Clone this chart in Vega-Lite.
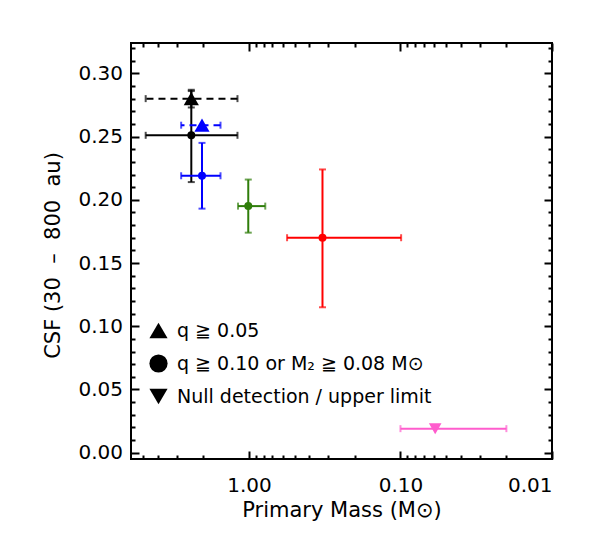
{
  "$schema": "https://vega.github.io/schema/vega-lite/v6.json",
  "width": 421,
  "height": 416,
  "autosize": "none",
  "padding": {"left": 131, "top": 43, "right": 39, "bottom": 84},
  "background": "white",
  "config": {
    "view": {"stroke": "black", "strokeWidth": 2},
    "font": "DejaVu Sans",
    "axis": {
      "domain": false,
      "grid": false,
      "tickColor": "black",
      "tickWidth": 2,
      "labelFont": "DejaVu Sans",
      "labelFontSize": 20,
      "labelColor": "black",
      "titleFont": "DejaVu Sans",
      "titleFontSize": 21,
      "titleFontWeight": "normal",
      "titleColor": "black"
    }
  },
  "data": {
    "values": [
      {"sample": "q ≧ 0.05", "grp": "S1", "mass": 2.4, "csf": 0.280, "ylo": 0.273, "yhi": 0.287, "xlo": 1.19, "xhi": 4.8},
      {"sample": "q ≧ 0.10 or M₂ ≧ 0.08 M⊙", "grp": "S1", "mass": 2.4, "csf": 0.251, "ylo": 0.214, "yhi": 0.286, "xlo": 1.19, "xhi": 4.8},
      {"sample": "q ≧ 0.05", "grp": "S2", "mass": 2.04, "csf": 0.259, "xlo": 1.54, "xhi": 2.8},
      {"sample": "q ≧ 0.10 or M₂ ≧ 0.08 M⊙", "grp": "S2", "mass": 2.04, "csf": 0.219, "ylo": 0.193, "yhi": 0.245, "xlo": 1.54, "xhi": 2.8},
      {"sample": "q ≧ 0.10 or M₂ ≧ 0.08 M⊙", "grp": "S3", "mass": 1.01, "csf": 0.195, "ylo": 0.174, "yhi": 0.216, "xlo": 0.78, "xhi": 1.18},
      {"sample": "q ≧ 0.10 or M₂ ≧ 0.08 M⊙", "grp": "S4", "mass": 0.327, "csf": 0.170, "ylo": 0.115, "yhi": 0.224, "xlo": 0.099, "xhi": 0.56},
      {"sample": "Null detection / upper limit", "grp": "S5", "mass": 0.059, "csf": 0.019, "xlo": 0.02, "xhi": 0.1}
    ]
  },
  "resolve": {"axis": {"x": "independent", "y": "independent"}},
  "layer": [
    {
      "transform": [{"filter": "isValid(datum.ylo)"}],
      "mark": {"type": "rule", "strokeWidth": 2},
      "encoding": {
        "x": {"field": "mass", "type": "quantitative",
              "scale": {"type": "log", "domain": [0.01, 6], "reverse": true, "nice": false},
              "axis": {"orient": "bottom", "values": [0.01, 0.1, 1], "format": ".2f", "tickSize": -8,
                       "labelBaseline": "alphabetic", "labelPadding": 40.5,
                       "title": "Primary Mass (M⊙)", "titleBaseline": "alphabetic", "titleY": 57}},
        "y": {"field": "ylo", "type": "quantitative",
              "scale": {"domain": [-0.005, 0.324], "nice": false, "zero": false},
              "axis": {"orient": "left", "values": [0, 0.05, 0.1, 0.15, 0.2, 0.25, 0.3], "format": ".2f", "tickSize": -8,
                       "labelPadding": 16.5, "labelBaseline": "middle",
                       "title": "CSF (30\u00a0 –\u00a0 800\u00a0 au)", "titleX": -72, "titleY": 212, "titleBaseline": "alphabetic", "titleAngle": -90, "titleAlign": "center"}},
        "y2": {"field": "yhi"},
        "color": {"field": "grp", "type": "nominal", "legend": null,
                  "scale": {"domain": ["S1", "S2", "S3", "S4", "S5"], "range": ["black", "#0000ff", "#2f7d0a", "#ff0000", "#ff5ccd"]}}
      }
    },
    {
      "transform": [{"filter": "datum.sample !== 'q ≧ 0.05'"}],
      "mark": {"type": "rule", "strokeWidth": 2},
      "encoding": {
        "x": {"field": "xlo", "type": "quantitative",
              "scale": {"type": "log", "domain": [0.01, 6], "reverse": true, "nice": false},
              "axis": {"orient": "bottom", "values": [0.02, 0.03, 0.04, 0.05, 0.06, 0.07, 0.08, 0.09, 0.2, 0.3, 0.4, 0.5, 0.6, 0.7, 0.8, 0.9, 2, 3, 4, 5],
                       "labels": false, "tickSize": -4, "title": null}},
        "x2": {"field": "xhi"},
        "y": {"field": "csf", "type": "quantitative",
              "scale": {"domain": [-0.005, 0.324], "nice": false, "zero": false},
              "axis": {"orient": "left", "values": [0.01, 0.02, 0.03, 0.04, 0.06, 0.07, 0.08, 0.09, 0.11, 0.12, 0.13, 0.14, 0.16, 0.17, 0.18, 0.19, 0.21, 0.22, 0.23, 0.24, 0.26, 0.27, 0.28, 0.29, 0.31, 0.32],
                       "labels": false, "tickSize": -4, "title": null}},
        "color": {"field": "grp", "type": "nominal", "legend": null}
      }
    },
    {
      "transform": [{"filter": "datum.sample === 'q ≧ 0.05'"}],
      "mark": {"type": "rule", "strokeWidth": 2, "strokeDash": [7, 5]},
      "encoding": {
        "x": {"field": "xlo", "type": "quantitative", "axis": null},
        "x2": {"field": "xhi"},
        "y": {"field": "csf", "type": "quantitative", "axis": null},
        "color": {"field": "grp", "type": "nominal", "legend": null}
      }
    },
    {
      "transform": [{"fold": ["ylo", "yhi"], "as": ["end", "v"]}, {"filter": "isValid(datum.v)"}],
      "mark": {"type": "tick", "orient": "horizontal", "size": 7, "thickness": 2},
      "encoding": {
        "x": {"field": "mass", "type": "quantitative",
              "scale": {"type": "log", "domain": [0.01, 6], "reverse": true, "nice": false},
              "axis": {"orient": "top", "values": [0.01, 0.1, 1], "labels": false, "tickSize": -8, "title": null}},
        "y": {"field": "v", "type": "quantitative",
              "scale": {"domain": [-0.005, 0.324], "nice": false, "zero": false},
              "axis": {"orient": "right", "values": [0, 0.05, 0.1, 0.15, 0.2, 0.25, 0.3], "labels": false, "tickSize": -8, "title": null}},
        "color": {"field": "grp", "type": "nominal", "legend": null}
      }
    },
    {
      "transform": [{"fold": ["xlo", "xhi"], "as": ["end", "u"]}, {"filter": "isValid(datum.u)"}],
      "mark": {"type": "tick", "orient": "vertical", "size": 7, "thickness": 2},
      "encoding": {
        "x": {"field": "u", "type": "quantitative",
              "scale": {"type": "log", "domain": [0.01, 6], "reverse": true, "nice": false},
              "axis": {"orient": "top", "values": [0.02, 0.03, 0.04, 0.05, 0.06, 0.07, 0.08, 0.09, 0.2, 0.3, 0.4, 0.5, 0.6, 0.7, 0.8, 0.9, 2, 3, 4, 5],
                       "labels": false, "tickSize": -4, "title": null}},
        "y": {"field": "csf", "type": "quantitative",
              "scale": {"domain": [-0.005, 0.324], "nice": false, "zero": false},
              "axis": {"orient": "right", "values": [0.01, 0.02, 0.03, 0.04, 0.06, 0.07, 0.08, 0.09, 0.11, 0.12, 0.13, 0.14, 0.16, 0.17, 0.18, 0.19, 0.21, 0.22, 0.23, 0.24, 0.26, 0.27, 0.28, 0.29, 0.31, 0.32],
                       "labels": false, "tickSize": -4, "title": null}},
        "color": {"field": "grp", "type": "nominal", "legend": null}
      }
    },
    {
      "transform": [{"filter": "datum.sample === 'q ≧ 0.05'"}],
      "mark": {"type": "point", "filled": true, "opacity": 1, "size": 230},
      "encoding": {
        "x": {"field": "mass", "type": "quantitative", "axis": null},
        "y": {"field": "csf", "type": "quantitative", "axis": null},
        "color": {"field": "grp", "type": "nominal", "legend": null},
        "shape": {"field": "sample", "type": "nominal",
                  "scale": {"domain": ["q ≧ 0.05", "q ≧ 0.10 or M₂ ≧ 0.08 M⊙", "Null detection / upper limit"], "range": ["triangle-up", "circle", "triangle-down"]},
                  "legend": {"orient": "none", "legendX": 18, "legendY": 278, "title": null, "padding": 0,
                             "symbolSize": 330, "symbolFillColor": "black", "symbolStrokeColor": "black", "symbolStrokeWidth": 0, "symbolOpacity": 1,
                             "labelFont": "DejaVu Sans", "labelFontSize": 19, "labelColor": "black", "labelOffset": 9, "rowPadding": 13, "labelLimit": 400}}
      }
    },
    {
      "transform": [{"filter": "datum.sample === 'q ≧ 0.10 or M₂ ≧ 0.08 M⊙'"}],
      "mark": {"type": "point", "filled": true, "opacity": 1, "size": 64},
      "encoding": {
        "x": {"field": "mass", "type": "quantitative", "axis": null},
        "y": {"field": "csf", "type": "quantitative", "axis": null},
        "color": {"field": "grp", "type": "nominal", "legend": null},
        "shape": {"field": "sample", "type": "nominal"}
      }
    },
    {
      "transform": [{"filter": "datum.sample === 'Null detection / upper limit'"}],
      "mark": {"type": "point", "filled": true, "opacity": 1, "size": 160},
      "encoding": {
        "x": {"field": "mass", "type": "quantitative", "axis": null},
        "y": {"field": "csf", "type": "quantitative", "axis": null},
        "color": {"field": "grp", "type": "nominal", "legend": null},
        "shape": {"field": "sample", "type": "nominal"}
      }
    }
  ]
}
